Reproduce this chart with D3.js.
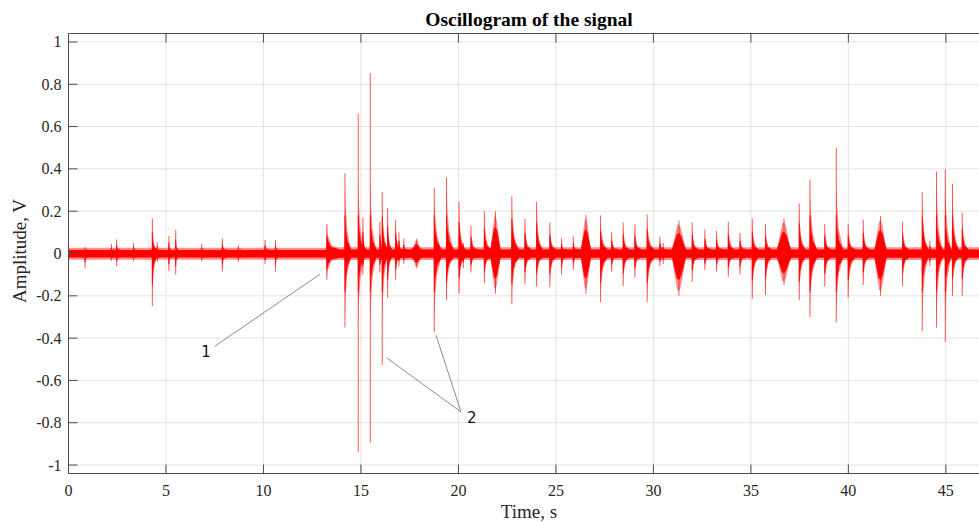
<!DOCTYPE html>
<html><head><meta charset="utf-8">
<script src="https://cdn.jsdelivr.net/npm/d3@7"></script>
<style>
html,body{margin:0;padding:0;background:#fff;}
svg{display:block;}
</style></head>
<body>
<svg id="chart" width="979" height="522"></svg>
<script>
// ---------- data ----------
const title = "Oscillogram of the signal";
const xLabel = "Time, s";
const yLabel = "Amplitude, V";
const xTicks = [0, 5, 10, 15, 20, 25, 30, 35, 40, 45];
const yTicks = [1, 0.8, 0.6, 0.4, 0.2, 0, -0.2, -0.4, -0.6, -0.8, -1];
const yTickLabels = ["1", "0.8", "0.6", "0.4", "0.2", "0", "-0.2", "-0.4", "-0.6", "-0.8", "-1"];
const xDomain = [0, 46.7];
const yDomain = [-1.04, 1.04];

// background noise band breakpoints
const noiseT  = [0, 13.2, 13.2, 46.7];
const noiseHi = [0.017, 0.017, 0.019, 0.019];
const noiseLo = [-0.019, -0.019, -0.02, -0.02];
const noiseOuterHi = [0.027, 0.027, 0.03, 0.03];
const noiseOuterLo = [-0.029, -0.029, -0.031, -0.031];

// bursts: time (s), positive peak (V), negative peak (V), duration (s), kind (s = sharp onset, b = broad)
const burstT    = [0.85, 2.2, 2.47, 3.33, 4.3, 4.55, 5.15, 5.5, 6.83, 7.89, 8.71, 10.08, 10.62, 13.25,
                   14.18, 14.86, 15.1, 15.48, 15.97, 16.09, 16.37, 16.78, 16.95, 17.2, 17.86, 18.76, 19.39,
                   20.03, 20.25, 20.64, 21.33, 21.9, 22.74, 23.41, 24.01, 24.69, 25.29, 25.89, 26.54, 27.29,
                   27.86, 28.45, 29.05, 29.68, 30.33, 30.5, 31.31, 31.99, 32.64, 33.24, 33.84, 34.44, 35.07,
                   35.75, 36.7, 37.48, 38.03, 38.79, 39.38, 39.99, 40.76, 41.65, 42.78, 43.79, 44.18, 44.52,
                   44.97, 45.34, 45.84];
const burstUp   = [0.03, 0.045, 0.067, 0.05, 0.166, 0.055, 0.083, 0.111, 0.045, 0.072, 0.04, 0.064, 0.064, 0.14,
                   0.38, 0.66, 0.17, 0.853, 0.15, 0.29, 0.215, 0.16, 0.10, 0.07, 0.07, 0.31, 0.36,
                   0.245, 0.05, 0.13, 0.2, 0.2, 0.27, 0.163, 0.245, 0.146, 0.072, 0.08, 0.182, 0.18,
                   0.10, 0.146, 0.138, 0.185, 0.08, 0.05, 0.155, 0.146, 0.114, 0.106, 0.15, 0.097, 0.166,
                   0.138, 0.166, 0.237, 0.347, 0.14, 0.50, 0.14, 0.16, 0.177, 0.15, 0.29, 0.06, 0.387,
                   0.398, 0.33, 0.193];
const burstDown = [-0.07, -0.035, -0.06, -0.035, -0.248, -0.04, -0.083, -0.10, -0.035, -0.086, -0.04, -0.05, -0.086, -0.125,
                   -0.35, -0.94, -0.10, -0.895, -0.09, -0.527, -0.21, -0.125, -0.06, -0.05, -0.07, -0.37, -0.22,
                   -0.19, -0.07, -0.09, -0.14, -0.19, -0.24, -0.146, -0.157, -0.16, -0.10, -0.078, -0.19, -0.23,
                   -0.086, -0.154, -0.113, -0.23, -0.06, -0.05, -0.2, -0.133, -0.078, -0.086, -0.11, -0.10, -0.215,
                   -0.196, -0.15, -0.22, -0.30, -0.157, -0.325, -0.209, -0.149, -0.2, -0.154, -0.367, -0.06, -0.35,
                   -0.417, -0.2, -0.2];
const burstLen  = [0.1, 0.1, 0.15, 0.1, 0.2, 0.15, 0.1, 0.1, 0.1, 0.2, 0.1, 0.2, 0.1, 0.6,
                   0.3, 0.3, 0.15, 0.3, 0.2, 0.25, 0.2, 0.25, 0.15, 0.15, 0.5, 0.35, 0.35,
                   0.3, 0.1, 0.3, 0.3, 0.5, 0.35, 0.3, 0.3, 0.3, 0.25, 0.25, 0.5, 0.35,
                   0.3, 0.3, 0.3, 0.35, 0.3, 0.1, 0.7, 0.3, 0.3, 0.3, 0.3, 0.3, 0.3,
                   0.3, 0.7, 0.3, 0.35, 0.3, 0.35, 0.35, 0.3, 0.6, 0.3, 0.3, 0.15, 0.3,
                   0.3, 0.3, 0.3];
const burstKind = ["s","s","s","s","s","s","s","s","s","s","s","s","s","s",
                   "s","s","s","s","s","s","s","s","s","s","b","s","s",
                   "s","s","s","s","b","s","s","s","s","s","s","b","s",
                   "s","s","s","s","s","s","b","s","s","s","s","s","s",
                   "s","b","s","s","s","s","s","s","b","s","s","s","s",
                   "s","s","s"];

// annotations (data coordinates)
const annoLabels = ["1", "2"];
const annoTextT  = [7.05, 20.69];
const annoTextV  = [-0.462, -0.776];
const annoLineFromT = [7.51, 20.13, 20.13];
const annoLineFromV = [-0.438, -0.749, -0.749];
const annoLineToT   = [12.9, 16.32, 18.85];
const annoLineToV   = [-0.098, -0.493, -0.386];

// ---------- layout ----------
const pL = 68.5, pT = 33.5, pR = 979, pB = 473.5;
const svg = d3.select("#chart");
const x = d3.scaleLinear().domain(xDomain).range([pL, pR]);
const y = d3.scaleLinear().domain(yDomain).range([pB, pT]);
const serif = "'Liberation Serif','Times New Roman',serif";
const axisColor = "#4d4d4d";

// grid
const grid = svg.append("g");
grid.selectAll("line.gx").data(xTicks).join("line")
  .attr("x1", d => x(d)).attr("x2", d => x(d)).attr("y1", pT).attr("y2", pB)
  .attr("stroke", "#e3e3e3").attr("stroke-width", 1);
grid.selectAll("line.gy").data(yTicks).join("line")
  .attr("x1", pL).attr("x2", pR).attr("y1", d => y(d)).attr("y2", d => y(d))
  .attr("stroke", "#e3e3e3").attr("stroke-width", 1);

// signal
svg.append("defs").append("clipPath").attr("id", "clip")
  .append("rect").attr("x", pL).attr("y", pT).attr("width", pR - pL).attr("height", pB - pT);
const sig = svg.append("g").attr("clip-path", "url(#clip)");
const red = "#ff0000";

const noise = noiseT.map((t, i) => ({t, hi: noiseHi[i], lo: noiseLo[i], ohi: noiseOuterHi[i], olo: noiseOuterLo[i]}));
sig.append("path").datum(noise)
  .attr("d", d3.area().x(d => x(d.t)).y0(d => y(d.olo)).y1(d => y(d.ohi)))
  .attr("fill", red).attr("opacity", 0.45);
sig.append("path").datum(noise)
  .attr("d", d3.area().x(d => x(d.t)).y0(d => y(d.lo)).y1(d => y(d.hi)))
  .attr("fill", red);

const bursts = burstT.map((t, i) => ({t, up: burstUp[i], down: burstDown[i], len: burstLen[i], kind: burstKind[i]}));

const lineGen = d3.line().x(p => x(p[0])).y(p => y(p[1])).curve(d3.curveLinearClosed);
// outline of one burst; (a, c) = upper and lower heights at the peak
function outline(b, a, c) {
  const t = b.t, L = b.len;
  if (b.kind === "b") {
    const h = L / 2;
    return [[t - h, 0.02], [t - h * 0.6, a * 0.6], [t - h * 0.25, a * 0.95], [t, a], [t + h * 0.3, a * 0.85], [t + h * 0.7, a * 0.45], [t + h, 0.02],
            [t + h, -0.02], [t + h * 0.7, c * 0.45], [t + h * 0.3, c * 0.85], [t, c], [t - h * 0.25, c * 0.95], [t - h * 0.6, c * 0.6], [t - h, -0.02]];
  }
  return [[t - 0.015, 0.02], [t, a], [t + L * 0.12, a * 0.65], [t + L * 0.4, a * 0.32], [t + L, 0.02],
          [t + L, -0.02], [t + L * 0.4, c * 0.32], [t + L * 0.12, c * 0.65], [t, c], [t - 0.015, -0.02]];
}
// lighter fringe
sig.selectAll("path.fringe").data(bursts).join("path")
  .attr("d", b => lineGen(outline(b, b.kind === "b" ? b.up * 0.9 : Math.min(b.up * 0.9, 0.35), b.kind === "b" ? b.down * 0.9 : Math.max(b.down * 0.9, -0.35))))
  .attr("fill", red).attr("opacity", 0.45);
// solid body
sig.selectAll("path.body").data(bursts).join("path")
  .attr("d", b => lineGen(outline(b, b.kind === "b" ? b.up * 0.62 : Math.min(b.up * 0.6, 0.18), b.kind === "b" ? b.down * 0.62 : Math.max(b.down * 0.6, -0.18))))
  .attr("fill", red).attr("stroke", red).attr("stroke-width", 0.5);
// thin spikes
sig.selectAll("line.spike").data(bursts).join("line")
  .attr("x1", d => x(d.t)).attr("x2", d => x(d.t))
  .attr("y1", d => y(d.down)).attr("y2", d => y(d.up))
  .attr("stroke", red).attr("stroke-width", 1).attr("opacity", 0.65);

// axes box
const ax = svg.append("g");
ax.append("line").attr("x1", pL).attr("x2", pL).attr("y1", pT).attr("y2", pB).attr("stroke", axisColor);
ax.append("line").attr("x1", pL).attr("x2", pR).attr("y1", pB).attr("y2", pB).attr("stroke", axisColor);
ax.append("line").attr("x1", pL).attr("x2", pR).attr("y1", pT).attr("y2", pT).attr("stroke", axisColor);

const tickLen = 9;
ax.selectAll("line.xtb").data(xTicks).join("line")
  .attr("x1", d => x(d)).attr("x2", d => x(d)).attr("y1", pB).attr("y2", pB - tickLen).attr("stroke", axisColor);
ax.selectAll("line.xtt").data(xTicks).join("line")
  .attr("x1", d => x(d)).attr("x2", d => x(d)).attr("y1", pT).attr("y2", pT + tickLen).attr("stroke", axisColor);
ax.selectAll("line.yt").data(yTicks).join("line")
  .attr("x1", pL).attr("x2", pL + tickLen).attr("y1", d => y(d)).attr("y2", d => y(d)).attr("stroke", axisColor);

ax.selectAll("text.xl").data(xTicks).join("text")
  .attr("x", d => x(d)).attr("y", pB + 22).attr("text-anchor", "middle")
  .attr("font-family", serif).attr("font-size", 16).attr("fill", "#262626").text(d => d);
ax.selectAll("text.yl").data(yTicks).join("text")
  .attr("x", pL - 7).attr("y", d => y(d) + 5.5).attr("text-anchor", "end")
  .attr("font-family", serif).attr("font-size", 16).attr("fill", "#262626").text((d, i) => yTickLabels[i]);

svg.append("text").attr("x", 529).attr("y", 26).attr("text-anchor", "middle")
  .attr("font-family", serif).attr("font-weight", "bold").attr("font-size", 19.5).attr("fill", "#000").text(title);
svg.append("text").attr("x", 529).attr("y", 518).attr("text-anchor", "middle")
  .attr("font-family", serif).attr("font-size", 19).attr("fill", "#262626").text(xLabel);
svg.append("text").attr("transform", "translate(26,251) rotate(-90)").attr("text-anchor", "middle")
  .attr("font-family", serif).attr("font-size", 19).attr("fill", "#262626").text(yLabel);

// annotations
const anno = svg.append("g");
anno.selectAll("line").data(annoLineFromT).join("line")
  .attr("x1", (d, i) => x(annoLineFromT[i])).attr("y1", (d, i) => y(annoLineFromV[i]))
  .attr("x2", (d, i) => x(annoLineToT[i])).attr("y2", (d, i) => y(annoLineToV[i]))
  .attr("stroke", "#8c8c8c").attr("stroke-width", 1);
anno.selectAll("text").data(annoLabels).join("text")
  .attr("x", (d, i) => x(annoTextT[i])).attr("y", (d, i) => y(annoTextV[i]) + 5.5)
  .attr("text-anchor", "middle").attr("font-family", "'DejaVu Sans',sans-serif").attr("font-size", 15)
  .attr("fill", "#111").text(d => d);
</script>
</body></html>
